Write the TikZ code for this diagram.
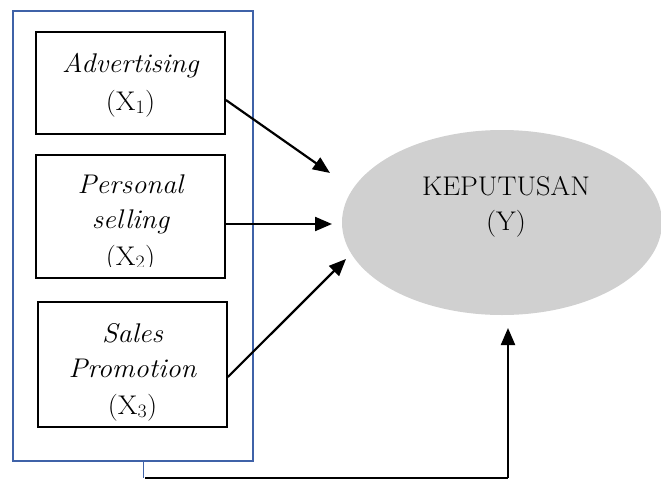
\documentclass[tikz,border=0pt]{standalone}
\usepackage{fontspec}
\setmainfont{Latin Modern Roman}[FakeStretch=1.05]
\usetikzlibrary{arrows.meta}
\definecolor{frameblue}{HTML}{3F62A8}
\definecolor{ellgray}{HTML}{D0D0D0}
\tikzset{
  varbox/.style={draw=black, line width=1.8pt, rectangle, inner sep=0pt},
  lbl/.style={anchor=base, inner sep=0pt, font=\fontsize{27}{30}\selectfont},
  arr/.style={line width=2.2pt, -{Triangle[length=17pt,width=14pt]}},
  plain/.style={line width=2.2pt}
}
\begin{document}
\begin{tikzpicture}[x=1pt,y=-1pt]
\useasboundingbox (0,0) rectangle (661,479);
% outer frame
\node[draw=frameblue, line width=1.3pt, rectangle, inner sep=0pt, minimum width=240pt, minimum height=450pt] (frame) at (133,236) {};
% variable boxes
\node[varbox, minimum width=189pt, minimum height=102pt] (b1) at (130.5,83) {};
\node[varbox, minimum width=189pt, minimum height=123pt] (b2) at (130.5,216.5) {};
\node[varbox, minimum width=189pt, minimum height=125pt] (b3) at (132.5,364.5) {};
% texts
\node[lbl] (t11) at (130.5,72) {\itshape Advertising};
\node[lbl] (t12) at (130.5,110) {(X\textsubscript{1})};
\begin{scope}
\clip (36,155) rectangle (225,266);
\node[lbl] (t21) at (130.5,193) {\itshape Personal};
\node[lbl] (t22) at (130.5,228) {\itshape selling};
\node[lbl] (t23) at (130.5,265) {(X\textsubscript{2})};
\end{scope}
\node[lbl] (t31) at (132.5,342) {\itshape Sales};
\node[lbl] (t32) at (132.5,377) {\itshape Promotion};
\node[lbl] (t33) at (132.5,414) {(X\textsubscript{3})};
% ellipse
\fill[ellgray] (502,222.5) ellipse [x radius=160, y radius=92.5];
\node[inner sep=0pt] (y) at (502,222.5) {};
\node[lbl] (ty1) at (506,195) {KEPUTUSAN};
\node[lbl] (ty2) at (506,230) {(Y)};
% connector endpoints
\coordinate (s1) at (b1.east |- 0,100);
\coordinate (e1) at (330,173);
\coordinate (s2) at (b2.east |- 0,224);
\coordinate (e2) at (332,224);
\coordinate (s3) at (b3.east |- 0,377);
\coordinate (e3) at (346,259);
\coordinate (fb) at (143,461);
\coordinate (c1) at (143,478);
\coordinate (c2) at (145,478);
\coordinate (c3) at (508,478);
\coordinate (e4) at (508,328);
\draw[arr] (s1) -- (e1);
\draw[arr] (s2) -- (e2);
\draw[arr] (s3) -- (e3);
\draw[frameblue, line width=1pt] (fb) -- (c1);
\draw[plain] (c2) -- (c3);
\draw[arr] (c3) -- (e4);
\end{tikzpicture}
\end{document}
